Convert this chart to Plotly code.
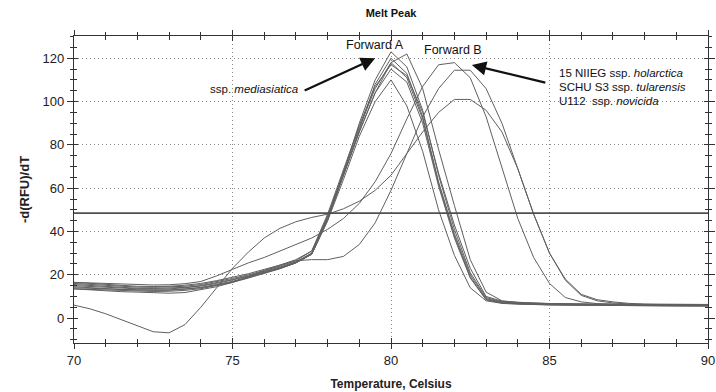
import plotly.graph_objects as go

temperature = [70 + 0.5 * i for i in range(41)]

forward_a = {
    "A1": [15.5,15,14.5,14,13.8,13.7,13.8,14.2,15,16.3,17.8,19.6,21.6,23.6,26,30,46,67,90,110,123,116,96,66,41,21,9.5,7.5,7,6.8,6.6,6.5,6.4,6.3,6.3,6.2,6.2,6.1,6.1,6,6],
    "A2": [16.5,16,15.5,15,14.7,14.6,14.7,15.2,16,17.3,18.8,20.5,22.5,24.5,27,31,47,66,86,104,118,122,106,78,52,27,12,8,7.2,6.9,6.7,6.5,6.4,6.3,6.3,6.2,6.2,6.1,6.1,6,6],
    "A3": [14.5,14,13.6,13.2,13,12.9,13,13.4,14.2,15.5,17,19,21,23,25.5,29.5,45,66,88,108,120,113,93,63,39,20,9,7.3,6.9,6.7,6.5,6.4,6.3,6.2,6.2,6.1,6.1,6,6,5.9,5.9],
    "A4": [15,14.6,14.2,13.8,13.5,13.4,13.5,14,14.8,16,17.5,19.3,21.3,23.3,25.8,30,47,67,88,106,118,111,92,62,38,19,8.5,7,6.6,6.4,6.2,6.1,6,6,5.9,5.9,5.8,5.8,5.8,5.7,5.7],
    "A5": [16,15.5,15,14.6,14.3,14.2,14.3,14.7,15.5,16.8,18.3,20,22,24,26.5,31,48,68,89,107,117,112,95,67,43,23,10,7.8,7.2,6.9,6.7,6.6,6.5,6.4,6.4,6.3,6.3,6.2,6.2,6.1,6.1],
    "A6": [13.5,13.2,12.9,12.6,12.4,12.3,12.4,12.8,13.6,15,16.5,18.5,20.5,22.8,25.5,29.5,46,66,86,104,115,109,90,61,37,18.5,8.5,7,6.5,6.3,6.1,6,5.9,5.8,5.8,5.7,5.7,5.7,5.6,5.6,5.6],
    "A7": [14,13.7,13.4,13.1,12.9,12.8,12.9,13.3,14,15.3,16.8,18.7,20.8,23,25.5,29.5,45,64,84,100,110,98,77,50,29,14,8,6.8,6.4,6.2,6.1,6,5.9,5.9,5.8,5.8,5.7,5.7,5.7,5.6,5.6],
}
forward_b = {
    "B1": [6,4.3,2,-0.7,-3.5,-6.3,-6.8,-3,5,14,23,30.5,37,41.5,44.5,46.5,48,50.5,54,59,66,76,86,95,101,101,96,86,69,48,30,17.5,10.5,8,7,6.5,6.3,6.2,6.1,6,6],
    "B2": [16.5,16.2,15.9,15.6,15.4,15.3,15.4,15.9,16.9,19.5,22.5,25.5,28,31,34,37,41,46,53,63,76,92,107,117,118,111,93,70,46,28,16,9.5,7.5,6.7,6.4,6.2,6.1,6,6,5.9,5.9],
    "B3": [13.5,13,12.5,12.2,12,11.8,11.5,11.8,13,14.5,16.5,19,22,24.5,26.5,27,27,28.5,34,44,59,76,93,106,114.5,114.5,106,90,69,48,30,18,11,8.5,7.5,6.8,6.5,6.4,6.3,6.3,6.3],
}
threshold = 48.5

x_ticks = [70, 75, 80, 85, 90]
y_ticks = [0, 20, 40, 60, 80, 100, 120]

FONT = "Liberation Sans, Arial, sans-serif"
fig = go.Figure()
for name, vals in {**forward_a, **forward_b}.items():
    fig.add_trace(go.Scatter(x=temperature, y=vals, mode="lines", name=name,
                             line=dict(color="#606060", width=1), showlegend=False))
fig.add_trace(go.Scatter(x=[70, 90], y=[threshold, threshold], mode="lines",
                         line=dict(color="#505050", width=1.6), showlegend=False))

axis_common = dict(showline=True, linecolor="#333333", linewidth=1.2, mirror="ticks",
                   tickcolor="#333333", zeroline=False, automargin=False)
fig.update_layout(
    width=716, height=392,
    margin=dict(l=74, r=8, t=36, b=49),
    paper_bgcolor="white", plot_bgcolor="white",
    font=dict(family=FONT, color="#222222", size=13),
    title=dict(text="<b>Melt Peak</b>", x=391 / 716, xanchor="center",
               y=1 - 13 / 392, yanchor="middle", font=dict(size=11, family=FONT, color="#111")),
    xaxis=dict(range=[70, 90], tickvals=x_ticks, ticks="outside", ticklen=5,
               showgrid=True, gridcolor="#888888", griddash="1px,3px", gridwidth=1,
               minor=dict(dtick=1, ticks="outside", ticklen=3, tickcolor="#333", showgrid=False),
               title=dict(text="<b>Temperature, Celsius</b>", font=dict(size=12), standoff=12),
               tickfont=dict(size=13), **axis_common),
    yaxis=dict(range=[-11.5, 130.3], tickvals=y_ticks, ticks="outside", ticklen=6,
               showgrid=True, gridcolor="#888888", griddash="1px,3px", gridwidth=1,
               minor=dict(dtick=5, ticks="outside", ticklen=3, tickcolor="#333", showgrid=False),
               title=dict(text="<b>-d(RFU)/dT</b>", font=dict(size=13), standoff=10),
               tickfont=dict(size=13), **axis_common),
    xaxis2=dict(range=[70, 90], overlaying="x", tickvals=x_ticks, ticks="inside",
                ticklen=5, showticklabels=False, showgrid=False, showline=False,
                mirror="ticks", tickcolor="#333", automargin=False,
                minor=dict(dtick=1, ticks="inside", ticklen=4, tickcolor="#333")),
    yaxis2=dict(range=[-11.5, 130.3], overlaying="y", tickvals=y_ticks, ticks="inside",
                ticklen=4, showticklabels=False, showgrid=False, showline=False,
                mirror="ticks", tickcolor="#333", automargin=False,
                minor=dict(dtick=5, ticks="inside", ticklen=3, tickcolor="#333")),
)
fig.add_trace(go.Scatter(x=[70], y=[threshold], xaxis="x2", yaxis="y2", mode="markers",
                         marker=dict(size=0.1, opacity=0), showlegend=False, hoverinfo="skip"))

txt = dict(size=12.5, family=FONT, color="#111111")
fig.add_annotation(x=79.51, y=126.1, text="Forward A", showarrow=False, font=txt)
fig.add_annotation(x=81.97, y=123.8, text="Forward B", showarrow=False, font=txt)
fig.add_annotation(x=77.13, y=105.7, text="ssp. <i>mediasiatica</i>", showarrow=False,
                   xanchor="right", font=dict(size=11.5, family=FONT, color="#111"))
for yy, t in [(113.3, "15 NIIEG ssp. <i>holarctica</i>"),
              (106.9, "SCHU S3 ssp. <i>tularensis</i>"),
              (100.4, "U112  ssp. <i>novicida</i>")]:
    fig.add_annotation(x=85.25, y=yy, text=t, showarrow=False, xanchor="left",
                       font=dict(size=11.5, family=FONT, color="#111"))
arrow = dict(text="", showarrow=True, arrowhead=2, arrowsize=1.3, arrowwidth=2.2,
             arrowcolor="#111111", axref="pixel", ayref="pixel")
fig.add_annotation(x=79.5, y=120, ax=-72, ay=33, **arrow)
fig.add_annotation(x=82.55, y=116.9, ax=75, ay=18, **arrow)

fig.write_html("out.html")
